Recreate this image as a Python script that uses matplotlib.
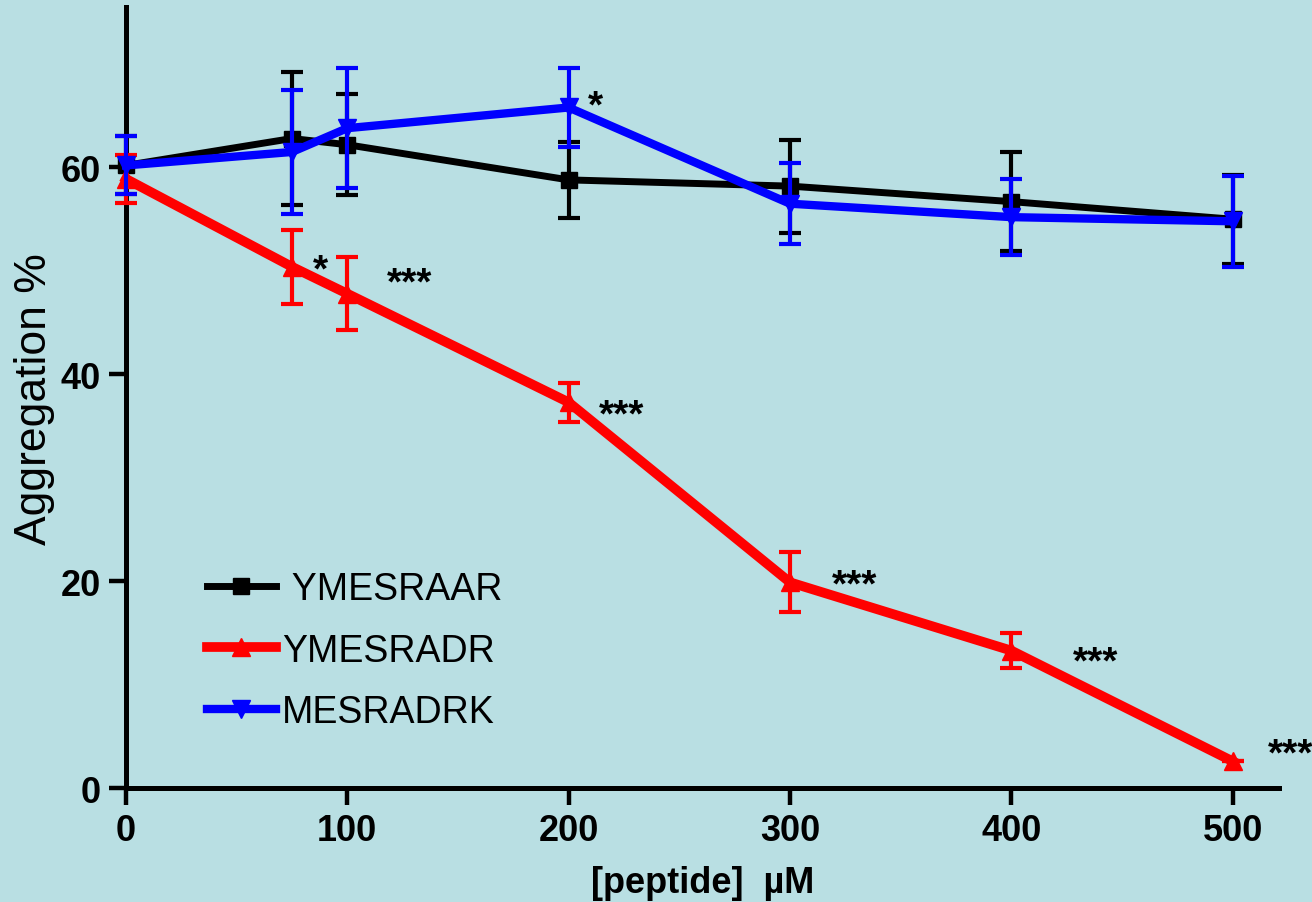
import matplotlib.pyplot as plt
from matplotlib import font_manager
from matplotlib.lines import Line2D

BG = "#b9dfe3"

conc = [0, 75, 100, 200, 300, 400, 500]

aar_mean = [60.2, 62.8, 62.2, 58.8, 58.2, 56.7, 55.0]
aar_err = [2.8, 6.4, 4.9, 3.7, 4.5, 4.8, 4.3]

adr_mean = [58.9, 50.4, 47.8, 37.3, 19.9, 13.3, 2.6]
adr_err = [2.3, 3.6, 3.5, 1.9, 2.9, 1.7, 0.0]

drk_mean = [60.2, 61.5, 63.8, 65.8, 56.5, 55.2, 54.8]
drk_err = [2.8, 6.0, 5.8, 3.8, 3.9, 3.7, 4.4]

labels = [" YMESRAAR", "YMESRADR", "MESRADRK"]

# significance stars (x, y, text)
star_x = [88, 128, 212, 224, 329, 438, 526]
star_y = [50.0, 48.8, 65.9, 36.0, 19.6, 12.2, 3.3]
star_txt = ["*", "***", "*", "***", "***", "***", "***"]

installed = {f.name for f in font_manager.fontManager.ttflist}
narrow = ["Liberation Sans Narrow", "Liberation Sans"] if "Liberation Sans Narrow" in installed else ["Liberation Sans"]
plt.rcParams["font.family"] = ["Liberation Sans", "DejaVu Sans"]

fig = plt.figure(figsize=(13.12, 9.03), dpi=100, facecolor=BG)
ax = fig.add_axes([0.096, 0.126, 0.879, 0.865], facecolor=BG)

series = [
    (aar_mean, aar_err, "black", "s", 5, 12),
    (adr_mean, adr_err, "#ff0000", "^", 7, 13),
    (drk_mean, drk_err, "#0000ff", "v", 6, 13),
]
handles = []
for i, (m, e, c, mk, lw, ms) in enumerate(series):
    h = ax.errorbar(conc, m, yerr=e, color=c, marker=mk, lw=lw, ms=ms,
                    elinewidth=3, capsize=8, capthick=3, zorder=3 + i,
                    clip_on=False)
    for art in h.get_children():
        art.set_clip_on(False)
    handles.append(Line2D([], [], color=c, marker=mk, lw=lw, ms=ms, label=labels[i]))

for x, y, t in zip(star_x, star_y, star_txt):
    ax.text(x, y, t, fontsize=28, fontweight="bold", ha="center", va="center",
            color="black", zorder=10, clip_on=False)

ax.set_xlim(0, 521)
ax.set_ylim(0, 75.5)
ax.set_xticks([0, 100, 200, 300, 400, 500])
ax.set_yticks([0, 20, 40, 60])

for s in ["top", "right"]:
    ax.spines[s].set_visible(False)
for s in ["left", "bottom"]:
    ax.spines[s].set_linewidth(3.6)
ax.tick_params(direction="out", length=12, width=3.2, pad=6)
for lab in ax.get_xticklabels() + ax.get_yticklabels():
    lab.set_family(narrow)
    lab.set_fontweight("bold")
    lab.set_fontsize(26)

ax.set_xlabel("[peptide]  \u00b5M", fontsize=26, fontweight="bold", family=narrow, labelpad=12)
ax.set_ylabel("Aggregation %", fontsize=32, labelpad=4)

leg = ax.legend(handles=handles, loc="upper left", bbox_to_anchor=(0.070, 0.278),
                frameon=False, fontsize=27, handlelength=1.85, handletextpad=0.15,
                labelspacing=0.68, borderpad=0, borderaxespad=0)

fig.savefig("out.png", dpi=100, facecolor=BG)
